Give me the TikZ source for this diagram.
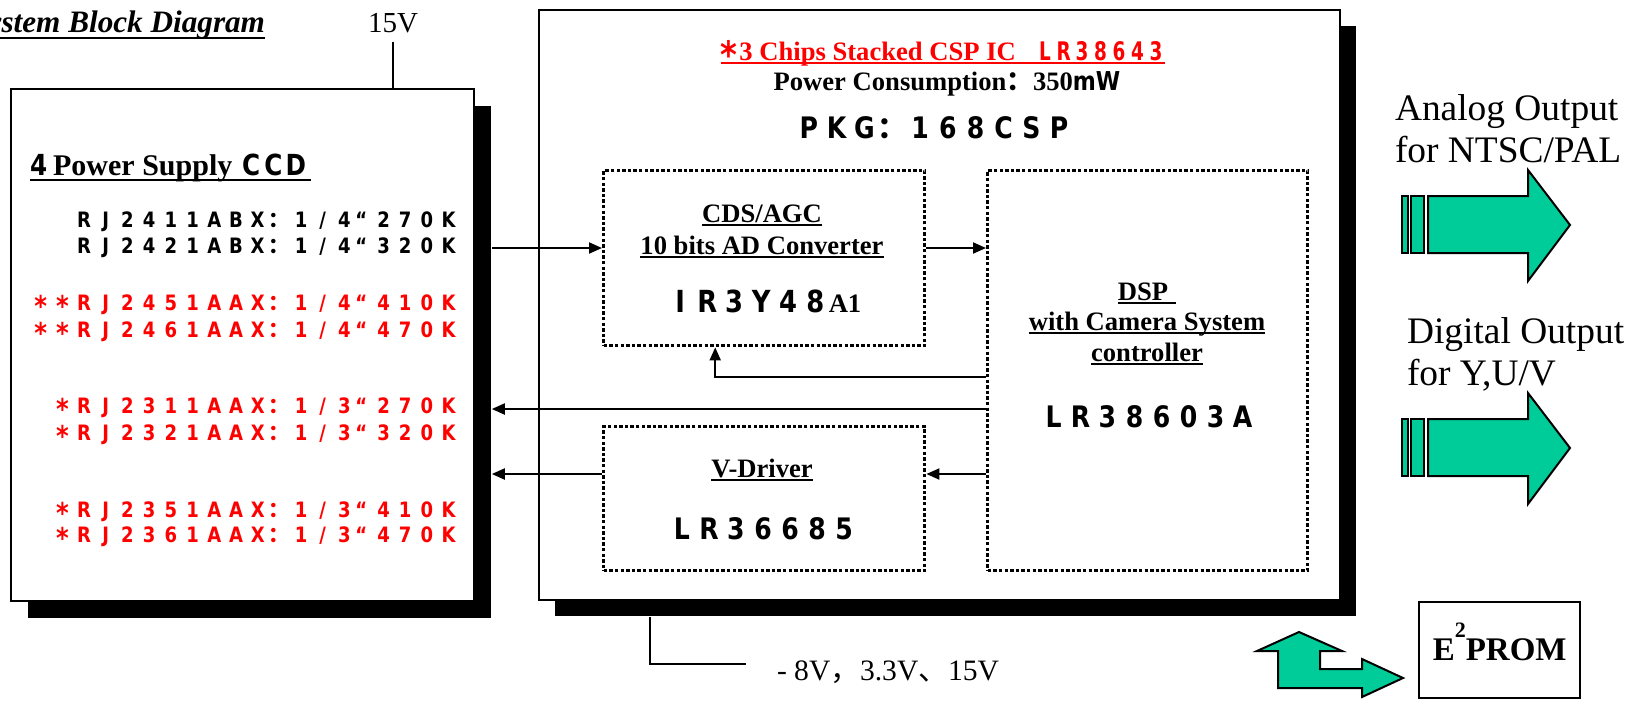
\documentclass[tikz,border=0pt]{standalone}
\usepackage{fontspec}
\usepackage{graphicx}
\setmainfont{Liberation Serif}
\newfontfamily\goth[FakeStretch=0.85]{DejaVu Sans}
\newfontfamily\gothN[FakeStretch=0.72]{DejaVu Sans}
\newfontfamily\cjk{Noto Sans CJK SC}
\usetikzlibrary{arrows.meta,calc}
\definecolor{grn}{HTML}{00CC99}
\definecolor{rd}{HTML}{FF0000}
\newlength\pitch
\def\spc#1#2{\begingroup\setlength\pitch{#1}\spcA#2\relax\endgroup}
\def\spcA#1{\ifx#1\relax\else\spcB#1\expandafter\spcA\fi}
\def\spcB#1{\ifx#1“\makebox[0.8\pitch][l]{#1}\else\makebox[\pitch]{#1}\fi}
\def\fc{\smash{\cjk ：}}
\newcommand\st{\smash{\raisebox{-0.32em}{\scalebox{1.35}{*}}}}
\newcommand\gothb[1]{\goth\bfseries\fontsize{#1}{#1}\selectfont}
\newcommand\tbf{\bfseries\fontsize{13.3}{14}\selectfont}
\newcommand\ulin[3]{\draw[ulstyle,#3] ([yshift=-#2]#1.base west) -- ([yshift=-#2]#1.base east);}
\tikzset{
  solidbox/.style={draw, line width=1.2pt, fill=white, inner sep=0pt, anchor=north west},
  shadowbox/.style={fill=black, inner sep=0pt, anchor=north west},
  dotbox/.style={draw, line width=1.7pt, dash pattern=on 1.7pt off 1.1pt, fill=white, inner sep=0pt, anchor=north west},
  arr/.style={line width=1pt, -{Triangle[length=6.5pt,width=5.5pt]}},
  wire/.style={line width=1pt},
  lbl/.style={inner sep=0pt, outer sep=0pt, anchor=base},
  ulstyle/.style={line width=0.9pt},
  grnshape/.style={fill=grn, draw=black, line width=1pt, line join=miter},
  partno/.style={lbl, anchor=base east, font=\gothb{10.6}},
}
\begin{document}
\begin{tikzpicture}[x=0.5pt,y=-0.5pt]
\useasboundingbox (0,0) rectangle (1626,708);

% title
\node[lbl, anchor=base east, font=\bfseries\itshape\fontsize{15.6}{16}\selectfont] (ttl) at (265,32) {System Block Diagram};
\ulin{ttl}{3pt}{line width=1pt}

% CCD box
\node[shadowbox, minimum width=231.5pt, minimum height=256pt] (ccdsh) at (28,106) {};
\node[solidbox, minimum width=231.5pt, minimum height=256pt] (ccd) at (10,88) {};
\node[lbl, font=\fontsize{14.5}{15}\selectfont] (v15) at (393,32) {15V};
\draw[wire] ([yshift=-5pt]v15.base) -- (v15.base |- ccd.north);

\node[lbl, anchor=base west] (ccdh) at (30,175) {{\gothb{14.5}4}\kern3pt{\bfseries\fontsize{15}{16}\selectfont Power Supply\ }{\gothb{14.5}\spc{11.2pt}{CCD}}};
\draw[ulstyle,line width=1pt] ([yshift=-2.5pt]ccdh.base west) -- ([yshift=-2.5pt,xshift=2pt]ccdh.base east);

\node[partno] (p1) at (459.5,227) {\spc{10.85pt}{RJ2411ABX\fc1/4“270K}};
\node[partno] (p2) at (459.5,253) {\spc{10.85pt}{RJ2421ABX\fc1/4“320K}};
\node[partno, text=rd] (p3) at (459.5,310) {\spc{10.85pt}{\st\st RJ2451AAX\fc1/4“410K}};
\node[partno, text=rd] (p4) at (459.5,337) {\spc{10.85pt}{\st\st RJ2461AAX\fc1/4“470K}};
\node[partno, text=rd] (p5) at (459.5,413) {\spc{10.85pt}{\st RJ2311AAX\fc1/3“270K}};
\node[partno, text=rd] (p6) at (459.5,440) {\spc{10.85pt}{\st RJ2321AAX\fc1/3“320K}};
\node[partno, text=rd] (p7) at (459.5,517) {\spc{10.85pt}{\st RJ2351AAX\fc1/3“410K}};
\node[partno, text=rd] (p8) at (459.5,542) {\spc{10.85pt}{\st RJ2361AAX\fc1/3“470K}};

% IC box
\node[shadowbox, minimum width=400.5pt, minimum height=295pt] (icsh) at (555,26) {};
\node[solidbox, minimum width=400.5pt, minimum height=295pt] (ic) at (538,9) {};

\node[lbl, text=rd] (ictitle) at (943,60) {{\gothb{14}\st}\kern1pt{\tbf 3 Chips Stacked CSP IC}\hspace{10pt}{\gothN\bfseries\fontsize{12.8}{13}\selectfont\spc{9.25pt}{LR38643}}};
\ulin{ictitle}{1.5pt}{draw=rd,line width=1pt}
\node[lbl] (pwr) at (947,90) {{\tbf Power Consumption\smash{\cjk ：}350}{\gothb{13}mW}};
\node[lbl, font=\gothb{14.8}] (pkg) at (934,138) {\spc{13.9pt}{PKG\fc168CSP}};

% inner blocks
\node[dotbox, minimum width=160.5pt, minimum height=87.5pt] (cds) at (602,169) {};
\node[dotbox, minimum width=160pt, minimum height=200pt] (dsp) at (986,169) {};
\node[dotbox, minimum width=160.5pt, minimum height=72pt] (vdrv) at (602,425) {};

\node[lbl, font=\tbf] (cds1) at (762,222) {CDS/AGC};
\ulin{cds1}{1.3pt}{}
\node[lbl, font=\tbf] (cds2) at (762,254) {10 bits AD Converter};
\ulin{cds2}{1.6pt}{}
\node[lbl] (cds3) at (764,312) {{\gothb{15.2}\spc{13.5pt}{IR3Y48}}{\tbf A1}};

\node[lbl, font=\tbf] (dsp1) at (1143,300) {DSP};
\draw[ulstyle] ([yshift=-1.5pt]dsp1.base west) -- ([yshift=-1.5pt,xshift=4pt]dsp1.base east);
\node[lbl, font=\tbf] (dsp2) at (1147,330) {with Camera System};
\ulin{dsp2}{1.5pt}{}
\node[lbl, font=\tbf] (dsp3) at (1147,361) {controller};
\ulin{dsp3}{1.5pt}{}
\node[lbl, font=\gothb{14.8}] (dsp4) at (1148,427) {\spc{13.5pt}{LR38603A}};

\node[lbl, font=\tbf] (vd1) at (762,477) {V-Driver};
\ulin{vd1}{1.5pt}{}
\node[lbl, font=\gothb{14.8}] (vd2) at (763,539) {\spc{13.5pt}{LR36685}};

% connectors
\coordinate (yA) at (0,248);
\coordinate (yB) at (0,377);
\coordinate (yC) at (0,409);
\coordinate (yD) at (0,474);
\draw[arr] (ccdsh.east |- yA) -- (cds.west |- yA);
\draw[arr] (cds.east |- yA) -- (dsp.west |- yA);
\draw[arr] (dsp.west |- yB) -| ([xshift=-24.5pt]cds.south);
\draw[arr] (dsp.west |- yC) -- (ccdsh.east |- yC);
\draw[arr] (vdrv.west |- yD) -- (ccdsh.east |- yD);
\draw[arr] (dsp.west |- yD) -- (vdrv.east |- yD);

% supply
\node[lbl, anchor=base west, font=\fontsize{14.8}{15}\selectfont] (sup) at (777,680) {- 8V{\cjk ，}3.3V{\cjk 、}15V};
\coordinate (supx) at (650,0);
\coordinate (supend) at (746,664);
\draw[wire] (supx |- icsh.south) |- (supend);

% outputs
\node[lbl, anchor=base west, font=\fontsize{18.7}{19}\selectfont] (an1) at (1395,120) {Analog Output};
\node[lbl, anchor=base west, font=\fontsize{18.7}{19}\selectfont] (an2) at (1395,162) {for NTSC/PAL};
\node[lbl, anchor=base west, font=\fontsize{18.7}{19}\selectfont] (dg1) at (1407,343) {Digital Output};
\node[lbl, anchor=base west, font=\fontsize{18.7}{19}\selectfont] (dg2) at (1407,385) {for Y,U/V};

\draw[grnshape] (1402,196) rectangle (1408,253);
\draw[grnshape] (1411,196) rectangle (1424,253);
\draw[grnshape] (1428,196) -- (1528,196) -- (1528,170) -- (1570,225) -- (1528,281) -- (1528,253) -- (1428,253) -- cycle;
\draw[grnshape] (1402,419) rectangle (1408,476);
\draw[grnshape] (1411,419) rectangle (1424,476);
\draw[grnshape] (1428,419) -- (1528,419) -- (1528,393) -- (1570,448) -- (1528,504) -- (1528,476) -- (1428,476) -- cycle;

% E2PROM
\node[solidbox, minimum width=80.5pt, minimum height=48pt, font=\bfseries\fontsize{16.5}{17}\selectfont] (eprom) at (1418,601) {E\raisebox{11.5pt}{\fontsize{11}{11}\selectfont 2}PROM\rule[-8pt]{0pt}{1pt}};
\draw[grnshape] (1278,688) -- (1278,651) -- (1257,651) -- (1299,632) -- (1342,651) -- (1320,651) -- (1320,669) -- (1362,669) -- (1362,659) -- (1403,678) -- (1362,697) -- (1362,688) -- cycle;
\end{tikzpicture}
\end{document}
